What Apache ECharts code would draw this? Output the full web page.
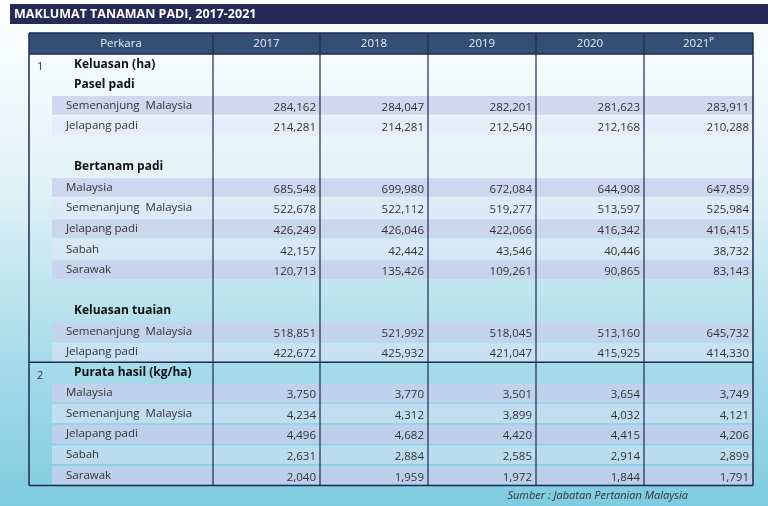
<!DOCTYPE html>
<html>
<head>
<meta charset="utf-8">
<script src="https://cdn.jsdelivr.net/npm/echarts@6/dist/echarts.min.js"></script>
<style>
html, body { margin: 0; padding: 0; }
#chart { width: 768px; height: 506px; }
</style>
</head>
<body>
<div id="chart"></div>
<script>
// Data tabel
const years = ['2017', '2018', '2019', '2020', '2021'];
const rowLabels = [
    'Keluasan (ha)', 'Pasel padi', 'Semenanjung  Malaysia', 'Jelapang padi', '',
    'Bertanam padi', 'Malaysia', 'Semenanjung  Malaysia', 'Jelapang padi', 'Sabah', 'Sarawak', '',
    'Keluasan tuaian', 'Semenanjung  Malaysia', 'Jelapang padi',
    'Purata hasil (kg/ha)', 'Malaysia', 'Semenanjung  Malaysia', 'Jelapang padi', 'Sabah', 'Sarawak'
];
// jenis baris: h = tajuk, d = data, b = kosong
const rowTypes = ['h','h','d','d','b','h','d','d','d','d','d','b','h','d','d','h','d','d','d','d','d'];
const rowValues = [
    null, null,
    ['284,162', '284,047', '282,201', '281,623', '283,911'],
    ['214,281', '214,281', '212,540', '212,168', '210,288'],
    null, null,
    ['685,548', '699,980', '672,084', '644,908', '647,859'],
    ['522,678', '522,112', '519,277', '513,597', '525,984'],
    ['426,249', '426,046', '422,066', '416,342', '416,415'],
    ['42,157', '42,442', '43,546', '40,446', '38,732'],
    ['120,713', '135,426', '109,261', '90,865', '83,143'],
    null, null,
    ['518,851', '521,992', '518,045', '513,160', '645,732'],
    ['422,672', '425,932', '421,047', '415,925', '414,330'],
    null,
    ['3,750', '3,770', '3,501', '3,654', '3,749'],
    ['4,234', '4,312', '3,899', '4,032', '4,121'],
    ['4,496', '4,682', '4,420', '4,415', '4,206'],
    ['2,631', '2,884', '2,585', '2,914', '2,899'],
    ['2,040', '1,959', '1,972', '1,844', '1,791']
];
const sectionNums = { 0: '1', 15: '2' };

const chart = echarts.init(document.getElementById('chart'));

const colX = [29, 213, 320, 428, 536, 644, 753];
const top0 = 33, headH = 21, rowH = 20.55;
const bodyTop = top0 + headH;
const bottom = bodyTop + rowH * rowLabels.length;
const navy = '#1f2a4f';
const font = '"Open Sans", "Noto Sans", sans-serif';

const els = [];
// latar belakang
els.push({ type: 'rect', shape: { x: 0, y: 0, width: 768, height: 506 }, z: 0,
    style: { fill: new echarts.graphic.LinearGradient(0, 0, 0, 1, [
        { offset: 0, color: '#ffffff' }, { offset: 0.35, color: '#e3f3f8' },
        { offset: 0.7, color: '#a9dcea' }, { offset: 1, color: '#7fcbe0' }]) } });
// bar tajuk
els.push({ type: 'rect', shape: { x: 10, y: 4, width: 758, height: 20 }, z: 1, style: { fill: '#262a55' } });
els.push({ type: 'text', x: 14, y: 14, z: 2, style: { text: 'MAKLUMAT TANAMAN PADI, 2017-2021',
    fill: '#fff', font: 'bold 12.5px ' + font, verticalAlign: 'middle' } });
// kepala jadual
els.push({ type: 'rect', shape: { x: colX[0], y: top0, width: colX[6] - colX[0], height: headH }, z: 1,
    style: { fill: '#344f75' } });
const heads = ['Perkara'].concat(years);
heads.forEach((h, i) => {
    els.push({ type: 'text', x: (colX[i] + colX[i + 1]) / 2, y: top0 + headH / 2, z: 3,
        style: { text: i === 5 ? h + '{s|P}' : h, fill: '#e8eef7', font: '11.5px ' + font,
            align: 'center', verticalAlign: 'middle', rich: { s: { fontSize: 7, verticalAlign: 'top', padding: [0, 0, 6, 0], fill: '#e8eef7' } } } });
});
// baris
let dataIdx = 0;
rowLabels.forEach((lab, r) => {
    const y = bodyTop + rowH * r;
    const cy = y + rowH / 2;
    if (rowTypes[r] === 'd') {
        els.push({ type: 'rect', shape: { x: 52, y: y + 1, width: colX[6] - 52, height: rowH - 2 }, z: 1,
            style: { fill: dataIdx % 2 === 0 ? 'rgba(200,208,236,0.8)' : 'rgba(225,230,248,0.55)' } });
        dataIdx++;
        els.push({ type: 'text', x: 66, y: cy, z: 3, style: { text: lab, fill: '#333',
            font: '11.5px ' + font, verticalAlign: 'middle' } });
        rowValues[r].forEach((v, c) => {
            els.push({ type: 'text', x: colX[c + 2] - 4, y: cy + 2, z: 3, style: { text: v, fill: '#333',
                font: '11.5px ' + font, align: 'right', verticalAlign: 'middle' } });
        });
    } else if (rowTypes[r] === 'h') {
        dataIdx = 0;
        els.push({ type: 'text', x: 74, y: cy, z: 3, style: { text: lab, fill: '#111',
            font: 'bold 12px ' + font, verticalAlign: 'middle' } });
    }
    if (sectionNums[r]) {
        els.push({ type: 'text', x: 37, y: cy + 3, z: 3, style: { text: sectionNums[r], fill: '#333',
            font: '11px ' + font, verticalAlign: 'middle' } });
    }
});
// garisan
const lineStyle = { stroke: navy, lineWidth: 1.5 };
colX.forEach((x, i) => {
    els.push({ type: 'line', z: 4, shape: { x1: x, y1: top0, x2: x, y2: bottom },
        style: { stroke: navy, lineWidth: (i === 0 || i === 6) ? 1.5 : 1.2 } });
});
[top0, bodyTop, bodyTop + rowH * 15, bottom].forEach(y => {
    els.push({ type: 'line', z: 4, shape: { x1: colX[0], y1: y, x2: colX[6], y2: y }, style: lineStyle });
});
// sumber
els.push({ type: 'text', x: 688, y: bottom + 10, z: 3, style: { text: 'Sumber : Jabatan Pertanian Malaysia',
    fill: '#333', font: 'italic 11px ' + font, align: 'right', verticalAlign: 'middle' } });

chart.setOption({ animation: false, graphic: { elements: els } });
</script>
</body>
</html>
